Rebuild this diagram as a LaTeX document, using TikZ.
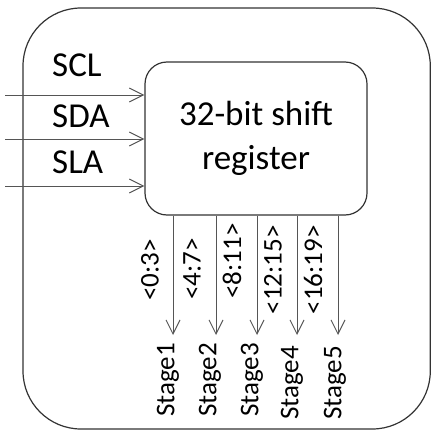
\documentclass[tikz,border=0pt]{standalone}
\usepackage{fontspec}
\setmainfont{Carlito}
\usetikzlibrary{arrows.meta}
\definecolor{wire}{HTML}{555555}
\definecolor{frame}{HTML}{333333}
\tikzset{
  bigtxt/.style={font=\fontsize{35}{44}\selectfont, inner sep=0pt},
  smalltxt/.style={font=\fontsize{27}{32}\selectfont, inner sep=0pt, rotate=90},
  wirearrow/.style={draw=wire, line width=1pt,
    -{Straight Barb[length=14pt,width=14pt,line width=1pt]}},
  regbox/.style={draw=frame, line width=1.2pt, rounded corners=22pt,
    minimum width=222pt, minimum height=153pt, align=center,
    font=\fontsize{35}{44}\selectfont, inner sep=0pt},
}
\begin{document}
\begin{tikzpicture}[x=1pt,y=-1pt]
  \useasboundingbox (0,0) rectangle (431,431);
  \clip (0,0) rectangle (431,431);

  % outer module outline
  \draw[draw=frame, line width=1.2pt, rounded corners=58pt] (23,8) rectangle (430.3,429);

  % the shift register block
  \node[regbox] (reg) at (256,138.5) {32-bit shift\\[0pt]register};

  % serial inputs
  \coordinate (i1) at (5,95);
  \coordinate (i2) at (5,139);
  \coordinate (i3) at (5,186);
  \draw[wirearrow] (i1) -- (i1 -| reg.west);
  \draw[wirearrow] (i2) -- (i2 -| reg.west);
  \draw[wirearrow] (i3) -- (i3 -| reg.west);

  \node[bigtxt, anchor=base west] (scl) at (52,76) {SCL};
  \node[bigtxt, anchor=base west] (sda) at (52,127) {SDA};
  \node[bigtxt, anchor=base west] (sla) at (52,173) {SLA};

  % parallel stage outputs
  \foreach \k/\x in {1/173, 2/216, 3/257, 4/297, 5/338} {
    \coordinate (o\k) at (\x,335);
    \draw[wirearrow] (o\k |- reg.south) -- (o\k);
  }

  \node[smalltxt] (b1) at (150,270) {<0:3>};
  \node[smalltxt] (b2) at (192,269) {<4:7>};
  \node[smalltxt] (b3) at (232,261) {<8:11>};
  \node[smalltxt] (b4) at (273,270) {<12:15>};
  \node[smalltxt] (b5) at (313,270) {<16:19>};

  \node[smalltxt] (s1) at (168,380) {Stage1};
  \node[smalltxt] (s2) at (210,380) {Stage2};
  \node[smalltxt] (s3) at (252,380) {Stage3};
  \node[smalltxt] (s4) at (292,383) {Stage4};
  \node[smalltxt] (s5) at (335,383) {Stage5};
\end{tikzpicture}
\end{document}
